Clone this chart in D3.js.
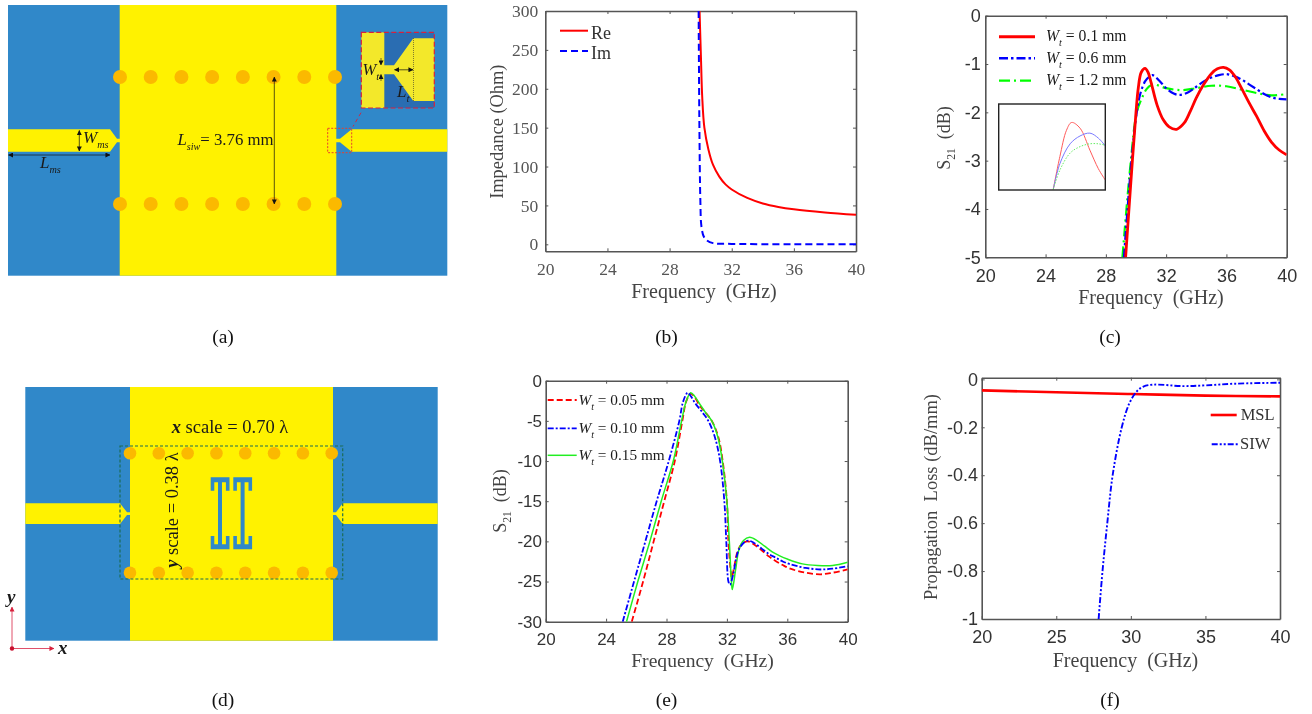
<!DOCTYPE html>
<html><head><meta charset="utf-8">
<script src="https://cdn.jsdelivr.net/npm/d3@7/dist/d3.min.js"></script>
<style>html,body{margin:0;padding:0;background:#fff;overflow:hidden}svg{display:block;filter:blur(0.35px)}</style>
</head><body><div id="c"></div>
<script>
// ---------- data ----------
const bReF=[29.93,30.02,30.1,30.24,30.5,30.8,31.2,31.6,32,33,34,35,36,38,40];
const bRe =[300,240,190,150,122,102,87,77,70.5,59.6,52.5,48,45,41,38];
const bImF=[29.87,29.92,29.98,30.05,30.2,30.4,30.8,32,36,40];
const bIm =[300,150,57,23,10,5,1.5,0.5,0.2,0];

const cF0=[29.31,29.76,30,30.15,30.35,30.6,30.8,31,31.4,31.8,32.2,32.7,33.2,33.6,34,34.5,35,35.4,35.8,36.2,36.6,37,37.5,38,38.5,39,39.5,40];
const c0 =[-5,-3,-2,-1.5,-1.17,-1.09,-1.17,-1.38,-1.85,-2.15,-2.3,-2.35,-2.22,-1.98,-1.7,-1.42,-1.2,-1.1,-1.07,-1.12,-1.27,-1.5,-1.8,-2.08,-2.38,-2.62,-2.78,-2.88];
const cF1=[29.2,29.7,30.05,30.3,30.6,30.85,31.1,31.5,32,32.5,32.9,33.5,34,34.5,35,35.5,36,36.5,37,37.5,38,38.5,39,39.5,40];
const c1 =[-5,-3,-2,-1.6,-1.36,-1.27,-1.23,-1.33,-1.5,-1.61,-1.64,-1.58,-1.47,-1.36,-1.28,-1.23,-1.21,-1.25,-1.32,-1.42,-1.52,-1.62,-1.69,-1.72,-1.73];
const cF2=[29.1,29.66,30.05,30.4,30.7,31,31.3,32,33,34,35,36,37,38,39,40];
const c2 =[-5,-3,-2,-1.7,-1.52,-1.44,-1.43,-1.5,-1.54,-1.5,-1.45,-1.46,-1.53,-1.6,-1.65,-1.62];

const insF0=[30.09,30.27,30.45,30.59,30.82,31.09,31.32,31.51];
const ins0 =[-2.03,-1.57,-1.2,-1.09,-1.17,-1.48,-1.74,-1.9];
const insF1=[30.09,30.27,30.55,30.82,31.09,31.32,31.51];
const ins1 =[-2.03,-1.67,-1.39,-1.28,-1.24,-1.31,-1.42];
const ins2 =[-2.03,-1.76,-1.52,-1.43,-1.39,-1.39,-1.41];

const eF0=[25.7,26.45,27.15,27.85,28.55,29.05,29.3,29.6,29.85,30.2,30.6,31,31.43,31.72,32,32.1,32.27,32.32,32.5,32.7,33,33.4,33.8,34.3,34.8,35.2,35.7,36.2,37.2,38.2,39,40];
const e0 =[-30,-25,-20,-15,-10,-5,-2.6,-1.6,-2,-3.1,-4,-5,-7,-10,-15,-20,-24,-24.5,-23,-21.3,-20.3,-20,-20.4,-21.1,-21.9,-22.4,-22.95,-23.4,-23.9,-24.1,-23.9,-23.5];
const eF1=[25.1,25.85,26.6,27.35,28.15,28.85,29.1,29.4,29.6,29.9,30.4,30.77,31.2,31.55,31.83,31.96,32.1,32.2,32.43,32.6,32.8,33.1,33.4,33.8,34.3,34.8,35.2,35.7,36.2,37.2,38.2,39,40];
const e1 =[-30,-25,-20,-15,-10,-5,-2.6,-1.5,-1.9,-2.8,-4,-5,-7,-10,-15,-20,-25,-25.4,-24,-22.2,-21,-20.2,-19.9,-20.2,-20.9,-21.6,-22,-22.5,-22.85,-23.3,-23.5,-23.4,-23.1];
const eF2=[25.35,26.1,26.9,27.65,28.45,29,29.3,29.6,29.85,30.2,30.6,31,31.4,31.7,32,32.16,32.3,32.36,32.58,32.8,33.1,33.5,34,34.5,35,35.5,36,37,38,39,40];
const e2 =[-30,-25,-20,-15,-10,-5,-2.6,-1.5,-1.9,-2.9,-4,-5,-7,-10,-15,-20,-25,-26,-23.5,-21,-19.9,-19.5,-19.9,-20.6,-21.3,-21.8,-22.2,-22.8,-23,-23,-22.6];

const fMslF=[20,25,30,35,40];
const fMsl =[-0.046,-0.054,-0.061,-0.068,-0.071];
const fSiwF=[27.84,28.1,28.42,28.78,29.39,29.9,30.4,30.84,31.5,33.5,35,37,40];
const fSiw =[-1,-0.8,-0.6,-0.4,-0.2,-0.1,-0.05,-0.03,-0.022,-0.028,-0.025,-0.018,-0.014];

const ticks20to40=[20,24,28,32,36,40];
const ticks20by5=[20,25,30,35,40];
const captions=["(a)","(b)","(c)","(d)","(e)","(f)"];
const viaCount=8;

// ---------- helpers ----------
const SERIF="'Liberation Serif','Times New Roman',serif", SANS="'Liberation Sans',Arial,sans-serif";
const svg=d3.select("#c").append("svg").attr("width",1312).attr("height",714);
svg.append("rect").attr("width",1312).attr("height",714).attr("fill","#fff");
let clipId=0;
const zip=(xs,ys)=>xs.map((x,i)=>[x,ys[i]]);

function rich(parent,x,y,parts,size,opts={}){
  const t=parent.append("text").attr("x",x).attr("y",y).attr("font-family",SERIF).attr("font-size",size)
    .attr("fill",opts.fill||"#1a1a1a");
  if(opts.rotate!=null) t.attr("transform",`rotate(${opts.rotate} ${x} ${y})`);
  if(opts.anchor) t.attr("text-anchor",opts.anchor);
  let prevSub=false;
  parts.forEach(p=>{
    const s=t.append("tspan").text(p.t).style("white-space","pre");
    if(p.i) s.attr("font-style","italic");
    if(p.b) s.attr("font-weight","bold");
    const dy=p.sub?size*0.3:(prevSub?-size*0.3:0);
    if(dy) s.attr("dy",dy);
    if(p.sub) s.attr("font-size",size*(p.scale||0.65));
    prevSub=!!p.sub;
  });
  return t;
}

function plot(o){
  const g=svg.append("g");
  const x=d3.scaleLinear().domain(o.xDomain).range([o.l,o.r]);
  const y=d3.scaleLinear().domain(o.yDomain).range([o.b,o.t]);
  const frame="#555";
  const ax=(gen,tx,ty,labels)=>{
    const a=g.append("g").attr("transform",`translate(${tx},${ty})`).call(gen);
    a.select(".domain").attr("stroke",frame).attr("stroke-width",1.6);
    a.selectAll(".tick line").attr("stroke",frame).attr("stroke-width",1);
    a.selectAll("text").attr("font-family",o.tickFont).attr("font-size",o.tickSize).attr("fill",o.tickColor);
    if(!labels) a.selectAll("text").remove();
    return a;
  };
  ax(d3.axisBottom(x).tickValues(o.xTicks).tickSizeInner(-3).tickSizeOuter(0).tickPadding(o.xPad),0,o.b,true);
  ax(d3.axisTop(x).tickValues(o.xTicks).tickSizeInner(-3).tickSizeOuter(0),0,o.t,false);
  ax(d3.axisLeft(y).tickValues(o.yTicks).tickSizeInner(-3).tickSizeOuter(0).tickPadding(o.yPad).tickFormat(d=>String(d)),o.l,0,true);
  ax(d3.axisRight(y).tickValues(o.yTicks).tickSizeInner(-3).tickSizeOuter(0),o.r,0,false);
  const id="clip"+(clipId++);
  g.append("clipPath").attr("id",id).append("rect").attr("x",o.l).attr("y",o.t).attr("width",o.r-o.l).attr("height",o.b-o.t);
  const line=d3.line().x(d=>x(d[0])).y(d=>y(d[1])).curve(d3.curveCatmullRom.alpha(0.5));
  const pg=g.append("g").attr("clip-path",`url(#${id})`);
  o.series.forEach(s=>{
    pg.append("path").attr("d",line(s.pts)).attr("fill","none").attr("stroke",s.c).attr("stroke-width",s.w)
      .attr("stroke-dasharray",s.dash||null);
  });
  return {g,x,y};
}
function legendLine(x1,x2,y,c,w,dash){
  svg.append("line").attr("x1",x1).attr("x2",x2).attr("y1",y).attr("y2",y).attr("stroke",c).attr("stroke-width",w).attr("stroke-dasharray",dash||null);
}
function xTitle(cx,y,size=20){
  svg.append("text").attr("x",cx).attr("y",y).attr("text-anchor","middle").attr("font-family",SERIF).attr("font-size",size)
    .attr("fill","#444").style("white-space","pre").text("Frequency  (GHz)");
}
(function arrowDefs(){
  const d=svg.append("defs");
  [["arrK","#111"],["arrR","#d8203c"]].forEach(([id,c])=>{
    d.append("marker").attr("id",id).attr("viewBox","0 0 6 6").attr("refX",5.5).attr("refY",3).attr("markerWidth",5).attr("markerHeight",5)
      .attr("markerUnits","userSpaceOnUse").attr("orient","auto-start-reverse").append("path").attr("d","M0,0L6,3L0,6Z").attr("fill",c);
  });
})();
function arrow(x1,y1,x2,y2,w=0.7,both=true,id="arrK",c="#111"){
  const l=svg.append("line").attr("x1",x1).attr("y1",y1).attr("x2",x2).attr("y2",y2).attr("stroke",c).attr("stroke-width",w).attr("marker-end",`url(#${id})`);
  if(both) l.attr("marker-start",`url(#${id})`);
}

// ---------- schematic ----------
const BLUE="#3088c9",YEL="#fff200",VIA="#fbb900";
function schematic(o){
  const g=svg.append("g");
  g.append("rect").attr("x",o.x0).attr("y",o.y0).attr("width",o.x1-o.x0).attr("height",o.y1-o.y0).attr("fill",BLUE);
  g.append("rect").attr("x",o.yx0).attr("y",o.y0).attr("width",o.yx1-o.yx0).attr("height",o.y1-o.y0).attr("fill",YEL);
  const f=o.feed, m=(f.t+f.b)/2, n=f.neck;
  const poly=[
    [[o.x0,f.t],[f.lEnd,f.t],[f.lTip,m-n],[o.yx0+1,m-n],[o.yx0+1,m+n],[f.lTip,m+n],[f.lEnd,f.b],[o.x0,f.b]],
    [[o.x1,f.t],[f.rEnd,f.t],[f.rTip,m-n],[o.yx1-1,m-n],[o.yx1-1,m+n],[f.rTip,m+n],[f.rEnd,f.b],[o.x1,f.b]]];
  g.selectAll(null).data(poly).join("polygon").attr("points",d=>d.map(p=>p.join(",")).join(" ")).attr("fill",YEL);
  const vx=d3.scaleLinear().domain([0,viaCount-1]).range([o.vx0,o.vx1]);
  o.vy.forEach(vy=>{
    g.selectAll(null).data(d3.range(viaCount)).join("circle").attr("cx",d=>vx(d)).attr("cy",vy).attr("r",o.vr).attr("fill",VIA);
  });
  return g;
}

schematic({x0:8,x1:447.3,y0:5,y1:275.7,yx0:119.7,yx1:336.3,vx0:120,vx1:335,vy:[77,204],vr:7,
  feed:{t:129.3,b:151.7,neck:1.8,lEnd:110,lTip:117,rEnd:351.7,rTip:340}});
arrow(79.3,130.5,79.3,151);
arrow(8.5,155,110,155);
arrow(274.3,77,274.3,204);
rich(svg,83,143,[{t:"W",i:1},{t:"ms",i:1,sub:1,scale:0.6}],17);
rich(svg,40,168,[{t:"L",i:1},{t:"ms",i:1,sub:1,scale:0.6}],17);
rich(svg,177.5,145,[{t:"L",i:1},{t:"siw",i:1,sub:1,scale:0.6},{t:"= 3.76 mm"}],16.8);
// detail inset of (a)
svg.append("rect").attr("x",327.7).attr("y",128.3).attr("width",24).attr("height",24.4).attr("fill","none").attr("stroke","#e8402a").attr("stroke-width",1).attr("stroke-dasharray","2 1.5");
svg.append("line").attr("x1",361).attr("y1",112.7).attr("x2",353).attr("y2",126.5).attr("stroke","#d8203c").attr("stroke-width",0.9).attr("stroke-dasharray","4 3");
svg.append("rect").attr("x",361.3).attr("y",32.3).attr("width",73).attr("height",75.7).attr("fill","#2a6db2");
svg.append("rect").attr("x",361.3).attr("y",32.3).attr("width",23).attr("height",75.7).attr("fill","#f3e82a");
svg.append("polygon").attr("points","384,65.3 394,65.3 413.3,38.3 434.3,38.3 434.3,101 413.3,101 394,74.3 384,74.3").attr("fill","#f3e82a");
svg.append("rect").attr("x",361.3).attr("y",32.3).attr("width",73).attr("height",75.7).attr("fill","none").attr("stroke","#d8203c").attr("stroke-width",1.2).attr("stroke-dasharray","5 2.5");
svg.append("line").attr("x1",413.5).attr("y1",38).attr("x2",413.5).attr("y2",101).attr("stroke","#333").attr("stroke-width",0.6).attr("stroke-dasharray","1 1");
arrow(394.5,69.8,413,69.8);
arrow(381,58,381,65,0.6,false);
arrow(381,81,381,74.5,0.6,false);
rich(svg,362.5,75,[{t:"W",i:1},{t:"t",i:1,sub:1}],16.5);
rich(svg,397,97,[{t:"L",i:1},{t:"t",i:1,sub:1}],17);

schematic({x0:25.3,x1:437.7,y0:387,y1:640.7,yx0:130,yx1:333,vx0:130,vx1:331.7,vy:[453.3,572.7],vr:6.3,
  feed:{t:503.3,b:524,neck:1.3,lEnd:120,lTip:127,rEnd:342.7,rTip:336}});
svg.append("rect").attr("x",120).attr("y",446).attr("width",222.7).attr("height",133).attr("fill","none").attr("stroke","#1d6d55").attr("stroke-width",1.2).attr("stroke-dasharray","3 2");
[210.7,233.3].forEach(ix=>{
  const top=477.3,bot=549.3,w=18.8,tooth=3.6,stemL=7.3,stemR=11.3,barH=5,toothEnd=13.4;
  const pts=[[0,top],[w,top],[w,top+toothEnd],[w-tooth,top+toothEnd],[w-tooth,top+barH],[stemR,top+barH],[stemR,bot-barH],[w-tooth,bot-barH],[w-tooth,bot-toothEnd],[w,bot-toothEnd],[w,bot],[0,bot],[0,bot-toothEnd],[tooth,bot-toothEnd],[tooth,bot-barH],[stemL,bot-barH],[stemL,top+barH],[tooth,top+barH],[tooth,top+toothEnd],[0,top+toothEnd]];
  svg.append("polygon").attr("points",pts.map(p=>[p[0]+ix,p[1]].join(",")).join(" ")).attr("fill",BLUE);
});
rich(svg,230,433,[{t:"x",i:1,b:1},{t:" scale = 0.70 λ"}],18.5,{anchor:"middle"});
rich(svg,177.5,510,[{t:"y",i:1,b:1},{t:" scale = 0.38 λ"}],18.5,{anchor:"middle",rotate:-90});
arrow(12,648.5,12,607,1,false,"arrR","#e0506a");
arrow(12,648.5,54,648.5,1,false,"arrR","#e0506a");
svg.append("circle").attr("cx",12).attr("cy",648.5).attr("r",2.2).attr("fill","#c8102e");
rich(svg,7,603,[{t:"y",i:1,b:1}],19);
rich(svg,58,654,[{t:"x",i:1,b:1}],19);

// ---------- (b) ----------
plot({l:545.3,r:856,t:11,b:251.3,xDomain:[20,40],yDomain:[-9,300],xTicks:ticks20to40,yTicks:[0,50,100,150,200,250,300],
  tickFont:SERIF,tickSize:17.5,tickColor:"#555",xPad:11.3,yPad:7,
  series:[{pts:zip(bReF,bRe),c:"#ff0000",w:2},{pts:zip(bImF,bIm),c:"#0000ff",w:2,dash:"7 4"}]});
legendLine(560,588,30.7,"#ff0000",2);
legendLine(560,588,51,"#0000ff",2,"7 4");
svg.append("text").attr("x",591).attr("y",39).attr("font-family",SERIF).attr("font-size",18).attr("fill","#333").text("Re");
svg.append("text").attr("x",591).attr("y",58.5).attr("font-family",SERIF).attr("font-size",18).attr("fill","#333").text("Im");
xTitle(704,298);
svg.append("text").attr("transform","translate(503,131.7) rotate(-90)").attr("text-anchor","middle").attr("font-family",SERIF).attr("font-size",18.4).attr("fill","#444").text("Impedance (Ohm)");

// ---------- (c) ----------
const dashC1="9 3 2.5 3",dashC2="11 4 2 4";
plot({l:985.3,r:1286.7,t:15.7,b:257.3,xDomain:[20,40],yDomain:[-5,0],xTicks:ticks20to40,yTicks:[-5,-4,-3,-2,-1,0],
  tickFont:SANS,tickSize:18,tickColor:"#333",xPad:11.6,yPad:4.6,
  series:[{pts:zip(cF2,c2),c:"#00ff00",w:2.2,dash:dashC2},{pts:zip(cF1,c1),c:"#0000ff",w:2.2,dash:dashC1},{pts:zip(cF0,c0),c:"#ff0000",w:2.8}]});
[[36.7,"#ff0000",3,null,"0.1"],[58.3,"#0000ff",2.4,dashC1,"0.6"],[80.7,"#00ff00",2.2,dashC2,"1.2"]].forEach(r=>{
  legendLine(999,1035,r[0],r[1],r[2],r[3]);
  rich(svg,1046,r[0]+4.5,[{t:"W",i:1},{t:"t",i:1,sub:1},{t:" = "+r[4]+" mm"}],15.7);
});
xTitle(1151,304);
rich(svg,950,138,[{t:"S"},{t:"21",sub:1},{t:"  (dB)"}],18,{anchor:"middle",rotate:-90,fill:"#444"});
// inset of (c)
const insX=d3.scaleLinear().domain([28.6,31.51]).range([998.7,1105.3]);
const insY=d3.scaleLinear().domain([-2.04,-0.83]).range([190,104]);
const insLine=d3.line().x(p=>insX(p[0])).y(p=>insY(p[1])).curve(d3.curveCatmullRom.alpha(0.5));
[[zip(insF0,ins0),"#ff5a5a",null],[zip(insF1,ins1),"#7a7aff",null],[zip(insF1,ins2),"#66ee66","1.5 1.5"]].forEach(s=>{
  svg.append("path").attr("d",insLine(s[0])).attr("fill","none").attr("stroke",s[1]).attr("stroke-width",1).attr("stroke-dasharray",s[2]);
});
svg.append("rect").attr("x",998.7).attr("y",104).attr("width",106.6).attr("height",86).attr("fill","none").attr("stroke","#222").attr("stroke-width",1.4);

// ---------- (e) ----------
plot({l:545.7,r:847.7,t:380.7,b:621.7,xDomain:[20,40],yDomain:[-30,0],xTicks:ticks20to40,yTicks:[-30,-25,-20,-15,-10,-5,0],
  tickFont:SANS,tickSize:17,tickColor:"#333",xPad:11,yPad:3.7,
  series:[{pts:zip(eF0,e0),c:"#ff0000",w:1.8,dash:"6 3"},{pts:zip(eF2,e2),c:"#22ee22",w:1.5},{pts:zip(eF1,e1),c:"#0000ff",w:1.8,dash:"6 2 2 2"}]});
[[400,"#ff0000",1.8,"6 3","0.05"],[428.3,"#0000ff",1.8,"6 2 2 2","0.10"],[455.3,"#22ee22",1.5,null,"0.15"]].forEach(r=>{
  legendLine(547.7,576.7,r[0],r[1],r[2],r[3]);
  rich(svg,578.5,r[0]+5,[{t:"W",i:1},{t:"t",i:1,sub:1},{t:" = "+r[4]+" mm"}],15.3);
});
xTitle(702.5,666.5,19.6);
rich(svg,506,501,[{t:"S"},{t:"21",sub:1},{t:"  (dB)"}],18,{anchor:"middle",rotate:-90,fill:"#444"});

// ---------- (f) ----------
plot({l:981.7,r:1280,t:377.7,b:619,xDomain:[20,40],yDomain:[-1,0.007],xTicks:ticks20by5,yTicks:[-1,-0.8,-0.6,-0.4,-0.2,0],
  tickFont:SANS,tickSize:18,tickColor:"#333",xPad:11.2,yPad:3.7,
  series:[{pts:zip(fMslF,fMsl),c:"#ff0000",w:2.6},{pts:zip(fSiwF,fSiw),c:"#0000ff",w:1.9,dash:"6 2 2 2 2 2"}]});
legendLine(1210.7,1236.7,415,"#ff0000",2.6);
legendLine(1211.7,1238,444.3,"#0000ff",1.9,"6 2 2 2 2 2");
svg.append("text").attr("x",1240.7).attr("y",419.5).attr("font-family",SERIF).attr("font-size",16.5).attr("fill","#333").text("MSL");
svg.append("text").attr("x",1240).attr("y",448.5).attr("font-family",SERIF).attr("font-size",16.5).attr("fill","#333").text("SIW");
xTitle(1125.5,666.5);
svg.append("text").attr("transform","translate(937,497) rotate(-90)").attr("text-anchor","middle").attr("font-family",SERIF).attr("font-size",18.5).attr("fill","#444").style("white-space","pre").text("Propagation  Loss (dB/mm)");

// ---------- captions ----------
const capX=d3.scalePoint().domain([0,1,2]).range([223,1110]);
captions.forEach((c,i)=>{
  svg.append("text").attr("x",capX(i%3)).attr("y",i<3?343:706).attr("text-anchor","middle").attr("font-family",SERIF).attr("font-size",19.5).attr("fill","#111").text(c);
});
</script></body></html>
